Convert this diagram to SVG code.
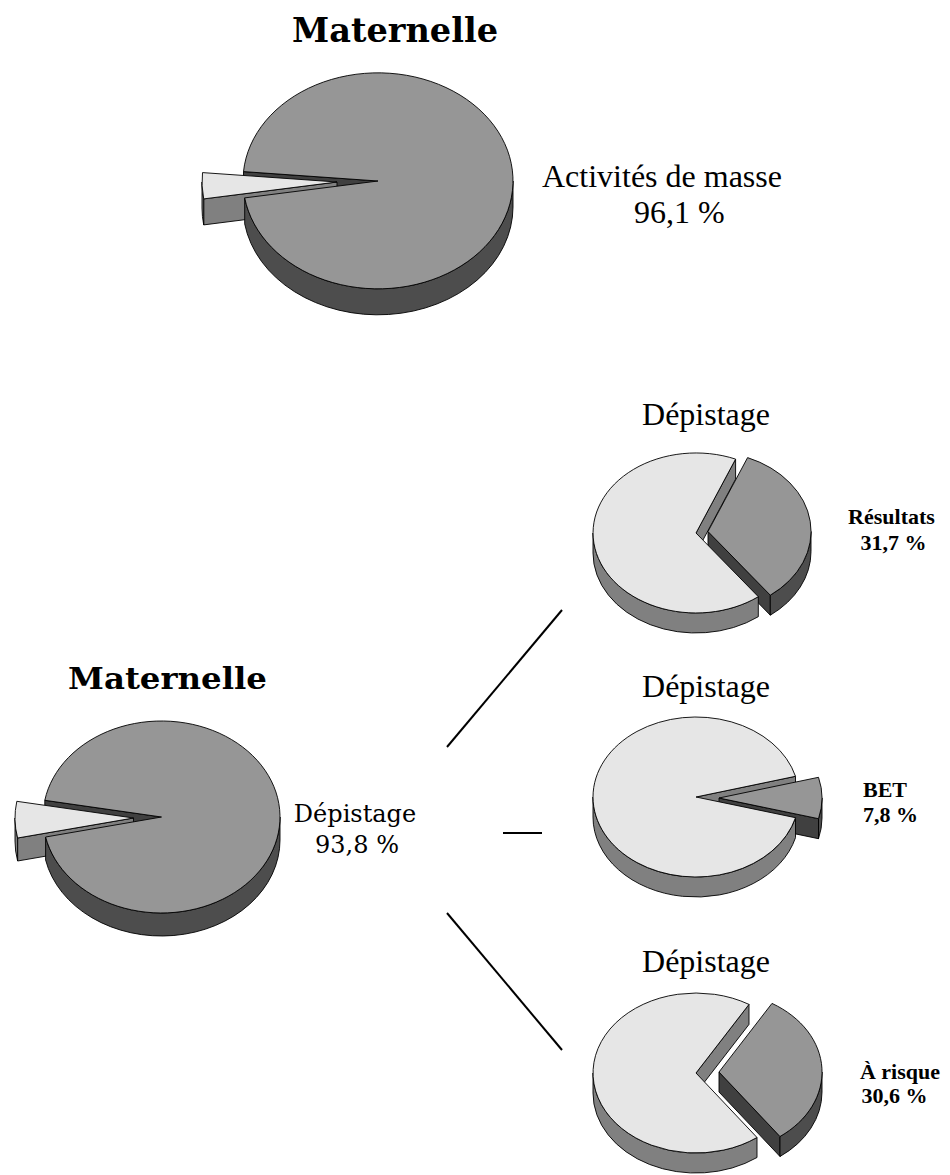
<svg xmlns="http://www.w3.org/2000/svg" width="950" height="1175" viewBox="0 0 950 1175">
  <style>
    .edge { stroke: #000; stroke-width: 0.9; stroke-linejoin: round; }
    .mid { fill: #969696; }
    .dark { fill: #4d4d4d; }
    .darker { fill: #404040; }
    .light { fill: #e6e6e6; }
    .gray { fill: #808080; }
    .title { font-family: "DejaVu Serif", serif; font-weight: bold; fill: #000; }
    .cent { font-family: "DejaVu Serif", serif; fill: #000; }
    .times { font-family: "Liberation Serif", serif; fill: #000; }
    .timesb { font-family: "Liberation Serif", serif; font-weight: bold; fill: #000; }
    .link { stroke: #000; stroke-width: 2; fill: none; }
  </style>
  <rect width="950" height="1175" fill="#fff"/>

  <!-- Maternelle: activités de masse (96,1 %) -->
  <g id="pie-masse">
    <text class="title" x="395" y="42" font-size="34" text-anchor="middle" textLength="206" lengthAdjust="spacingAndGlyphs">Maternelle</text>
    <path class="edge darker" d="M378,181 L243.5,171.6 L243.5,197.6 L378,207 Z"/>
    <path class="edge gray" d="M337,182 L203.7,198.9 L203.7,224.9 L337,208 Z"/>
    <path class="edge gray" d="M203.7,198.9 A135,108 0 0 1 202,182 L202,208 A135,108 0 0 0 203.7,224.9 Z"/>
    <path class="edge light" d="M337,182 L202.5,172.6 A135,108 0 0 0 203.7,198.9 Z"/>
    <path class="edge dark" d="M244.7,197.9 A135,108 0 0 0 513,181 L513,207 A135,108 0 0 1 244.7,223.9 Z"/>
    <path class="edge mid" d="M378,181 L243.5,171.6 A135,108 0 1 1 244.7,197.9 Z"/>
    <text class="times" x="542" y="187" font-size="32">Activités de masse</text>
    <text class="times" x="634" y="223" font-size="32">96,1 %</text>
  </g>

  <!-- Maternelle: dépistage (93,8 %) -->
  <g id="pie-depistage">
    <text class="title" x="167.5" y="689" font-size="30" text-anchor="middle" textLength="199" lengthAdjust="spacingAndGlyphs">Maternelle</text>
    <path class="edge darker" d="M161.5,817 L44.8,800.3 L44.8,823.3 L161.5,840 Z"/>
    <path class="edge gray" d="M133.5,818 L17.6,838 L17.6,861 L133.5,841 Z"/>
    <path class="edge gray" d="M17.6,838 A118.5,96 0 0 1 15,818 L15,841 A118.5,96 0 0 0 17.6,861 Z"/>
    <path class="edge light" d="M133.5,818 L16.8,801.3 A118.5,96 0 0 0 17.6,838 Z"/>
    <path class="edge dark" d="M45.6,837 A118.5,96 0 0 0 280,817 L280,840 A118.5,96 0 0 1 45.6,860 Z"/>
    <path class="edge mid" d="M161.5,817 L44.8,800.3 A118.5,96 0 1 1 45.6,837 Z"/>
    <text class="cent" x="355" y="822" font-size="24" text-anchor="middle">Dépistage</text>
    <text class="cent" x="357" y="853" font-size="24" text-anchor="middle">93,8 %</text>
  </g>

  <!-- Dépistage: résultats (31,7 %) -->
  <g id="pie-resultats">
    <text class="times" x="706" y="425" font-size="32" text-anchor="middle">Dépistage</text>
    <path class="edge gray" d="M696,533 L735.6,459.1 L735.6,479.1 L696,553 Z"/>
    <path class="edge darker" d="M708,531.5 L770.3,595.2 L770.3,615.2 L708,551.5 Z"/>
    <path class="edge dark" d="M811,531.5 A103,80 0 0 1 770.3,595.2 L770.3,615.2 A103,80 0 0 0 811,551.5 Z"/>
    <path class="edge mid" d="M708,531.5 L747.6,457.6 A103,80 0 0 1 770.3,595.2 Z"/>
    <path class="edge gray" d="M758.3,596.7 A103,80 0 0 1 593,533 L593,553 A103,80 0 0 0 758.3,616.7 Z"/>
    <path class="edge light" d="M696,533 L758.3,596.7 A103,80 0 1 1 735.6,459.1 Z"/>
    <text class="timesb" x="891.5" y="524" font-size="22" text-anchor="middle">Résultats</text>
    <text class="timesb" x="893.5" y="550" font-size="22" text-anchor="middle">31,7 %</text>
  </g>

  <!-- Dépistage: BET (7,8 %) -->
  <g id="pie-bet">
    <text class="times" x="706" y="697" font-size="32" text-anchor="middle">Dépistage</text>
    <path class="edge gray" d="M696,797 L795.5,776.3 L795.5,796.3 L696,817 Z"/>
    <path class="edge darker" d="M719,798 L818.5,818.7 L818.5,838.7 L719,818 Z"/>
    <path class="edge dark" d="M822,798 A103,80 0 0 1 818.5,818.7 L818.5,838.7 A103,80 0 0 0 822,818 Z"/>
    <path class="edge mid" d="M719,798 L818.5,777.3 A103,80 0 0 1 818.5,818.7 Z"/>
    <path class="edge gray" d="M795.5,817.7 A103,80 0 0 1 593,797 L593,817 A103,80 0 0 0 795.5,837.7 Z"/>
    <path class="edge light" d="M696,797 L795.5,817.7 A103,80 0 1 1 795.5,776.3 Z"/>
    <text class="timesb" x="863" y="797" font-size="22">BET</text>
    <text class="timesb" x="863" y="822" font-size="22">7,8 %</text>
  </g>

  <!-- Dépistage: à risque (30,6 %) -->
  <g id="pie-risque">
    <text class="times" x="706" y="972" font-size="32" text-anchor="middle">Dépistage</text>
    <path class="edge gray" d="M696,1073 L749,1004.4 L749,1024.4 L696,1093 Z"/>
    <path class="edge darker" d="M719,1072 L780,1136.5 L780,1156.5 L719,1092 Z"/>
    <path class="edge dark" d="M822,1072 A103,80 0 0 1 780,1136.5 L780,1156.5 A103,80 0 0 0 822,1092 Z"/>
    <path class="edge mid" d="M719,1072 L772,1003.4 A103,80 0 0 1 780,1136.5 Z"/>
    <path class="edge gray" d="M757,1137.5 A103,80 0 0 1 593,1073 L593,1093 A103,80 0 0 0 757,1157.5 Z"/>
    <path class="edge light" d="M696,1073 L757,1137.5 A103,80 0 1 1 749,1004.4 Z"/>
    <text class="timesb" x="900" y="1079" font-size="22" text-anchor="middle">À risque</text>
    <text class="timesb" x="894.5" y="1103" font-size="22" text-anchor="middle">30,6 %</text>
  </g>

  <!-- links from the dépistage pie to its three breakdowns -->
  <g id="connectors">
    <line class="link" x1="447" y1="747" x2="562" y2="610"/>
    <line class="link" x1="503" y1="833" x2="542" y2="833"/>
    <line class="link" x1="447" y1="913" x2="562" y2="1050"/>
  </g>
</svg>
